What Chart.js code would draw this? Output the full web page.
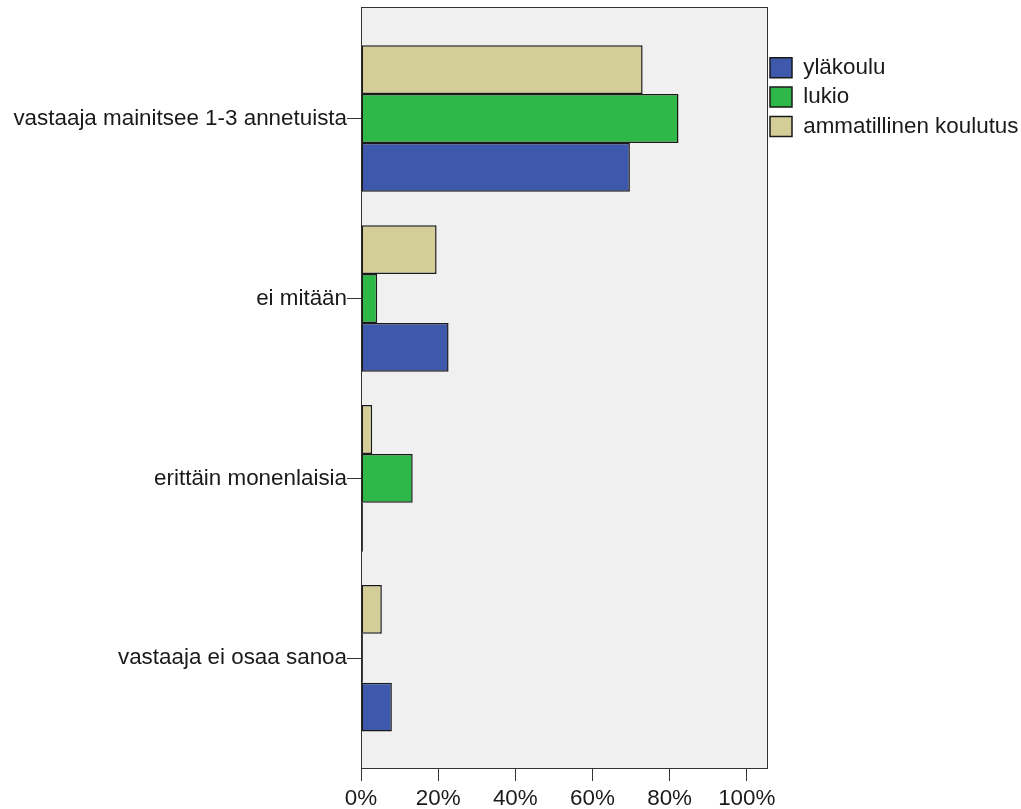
<!DOCTYPE html>
<html>
<head>
<meta charset="utf-8">
<script src="https://cdn.jsdelivr.net/npm/chart.js@4.4.0/dist/chart.umd.min.js"></script>
<style>
html,body{margin:0;padding:0;background:#ffffff;}
#wrap{width:1021px;height:809px;position:relative;}
</style>
</head>
<body>
<div id="wrap"><canvas id="c"></canvas></div>
<script>
// ---- data ----
const categories = ['vastaaja mainitsee 1-3 annetuista', 'ei mitään', 'erittäin monenlaisia', 'vastaaja ei osaa sanoa'];
const seriesNames = ['yläkoulu', 'lukio', 'ammatillinen koulutus'];
const ylakoulu = [69.7, 22.7, 0.5, 8.0];
const lukio = [82.3, 4.2, 13.4, 0.5];
const ammatillinen = [73.0, 19.6, 2.9, 5.4];
const xTickValues = [0, 20, 40, 60, 80, 100];
const xTickLabels = ['0%', '20%', '40%', '60%', '80%', '100%'];

// ---- styling ----
const FONT = "'Liberation Sans', Arial, sans-serif";
Chart.defaults.font.family = FONT;
Chart.defaults.font.size = 22;
Chart.defaults.color = '#1a1a1a';

const colors = { ylakoulu: '#3e58ac', lukio: '#2eb848', ammatillinen: '#d3ce97' };

function toPoints(arr) { return arr.map((v, i) => ({ x: v, y: i })); }

const framePlugin = {
  id: 'frame',
  beforeDraw(chart) {
    const a = chart.chartArea, ctx = chart.ctx;
    ctx.save();
    ctx.fillStyle = '#f0f0f0';
    ctx.fillRect(a.left, a.top, a.right - a.left, a.bottom - a.top);
    ctx.restore();
  },
  beforeDatasetsDraw(chart) {
    const a = chart.chartArea, ctx = chart.ctx;
    ctx.save();
    ctx.strokeStyle = '#333333';
    ctx.lineWidth = 1;
    ctx.strokeRect(a.left + 0.5, a.top + 0.5, a.right - a.left - 1, a.bottom - a.top);
    ctx.restore();
  }
};

const LEGEND_PAD = 7;
const legendPatchPlugin = {
  id: 'legendPatch',
  beforeLayout(chart) {
    const lg = chart.legend;
    if (lg && !lg.__patched) {
      const fit = lg.fit.bind(lg);
      lg.fit = function () { fit(); this.width = 253; };
      const draw = lg.draw.bind(lg);
      lg.draw = function () {
        const l = this.left;
        this.left = l - (LEGEND_PAD - 2);
        draw();
        this.left = l;
      };
      lg.__patched = true;
    }
  }
};

const barStyle = {
  borderWidth: 1.5,
  borderColor: '#1a1a1a',
  borderSkipped: false,
  categoryPercentage: 0.815,
  barPercentage: 1.0
};

new Chart(document.getElementById('c'), {
  type: 'bar',
  data: {
    datasets: [
      Object.assign({ label: seriesNames[2], data: toPoints(ammatillinen), backgroundColor: colors.ammatillinen }, barStyle),
      Object.assign({ label: seriesNames[1], data: toPoints(lukio), backgroundColor: colors.lukio }, barStyle),
      Object.assign({ label: seriesNames[0], data: toPoints(ylakoulu), backgroundColor: colors.ylakoulu }, barStyle)
    ]
  },
  options: {
    indexAxis: 'y',
    responsive: true,
    maintainAspectRatio: false,
    animation: false,
    layout: { padding: { top: 7, left: 0, right: 0, bottom: 0 } },
    scales: {
      x: {
        type: 'linear',
        position: 'bottom',
        min: 0,
        max: 105.5,
        offset: false,
        afterBuildTicks(s) { s.ticks = xTickValues.map(v => ({ value: v })); },
        afterFit(s) { s.height = 41; },
        ticks: {
          callback: (v) => xTickLabels[xTickValues.indexOf(v)],
          padding: 4,
          autoSkip: false,
          maxRotation: 0,
          color: '#1a1a1a',
          font: { size: 22.4 }
        },
        grid: { display: true, offset: false, drawOnChartArea: false, drawTicks: true, tickLength: 13, color: '#333333', lineWidth: 1 },
        border: { display: false }
      },
      y: {
        type: 'linear',
        reverse: true,
        min: -0.62,
        max: 3.61,
        offset: false,
        afterBuildTicks(s) { s.ticks = categories.map((c, i) => ({ value: i })); },
        afterFit(s) { s.width = 361; s.paddingTop = 0; s.paddingBottom = 0; },
        ticks: {
          callback: (v) => categories[v],
          padding: 0,
          autoSkip: false,
          color: '#1a1a1a',
          font: { size: 22.4 }
        },
        grid: { display: true, offset: false, drawOnChartArea: false, drawTicks: true, tickLength: 14, color: '#333333', lineWidth: 1 },
        border: { display: false }
      }
    },
    plugins: {
      tooltip: { enabled: false },
      legend: {
        position: 'right',
        align: 'start',
        reverse: true,
        title: { display: true, text: '', font: { size: 10, lineHeight: 1 }, padding: { top: 37.5 - (LEGEND_PAD - 2), bottom: 0 } },
        labels: {
          boxWidth: 22,
          boxHeight: 20,
          padding: LEGEND_PAD,
          color: '#1a1a1a',
          font: { size: 22.4 }
        }
      }
    }
  },
  plugins: [framePlugin, legendPatchPlugin]
});
</script>
</body>
</html>
